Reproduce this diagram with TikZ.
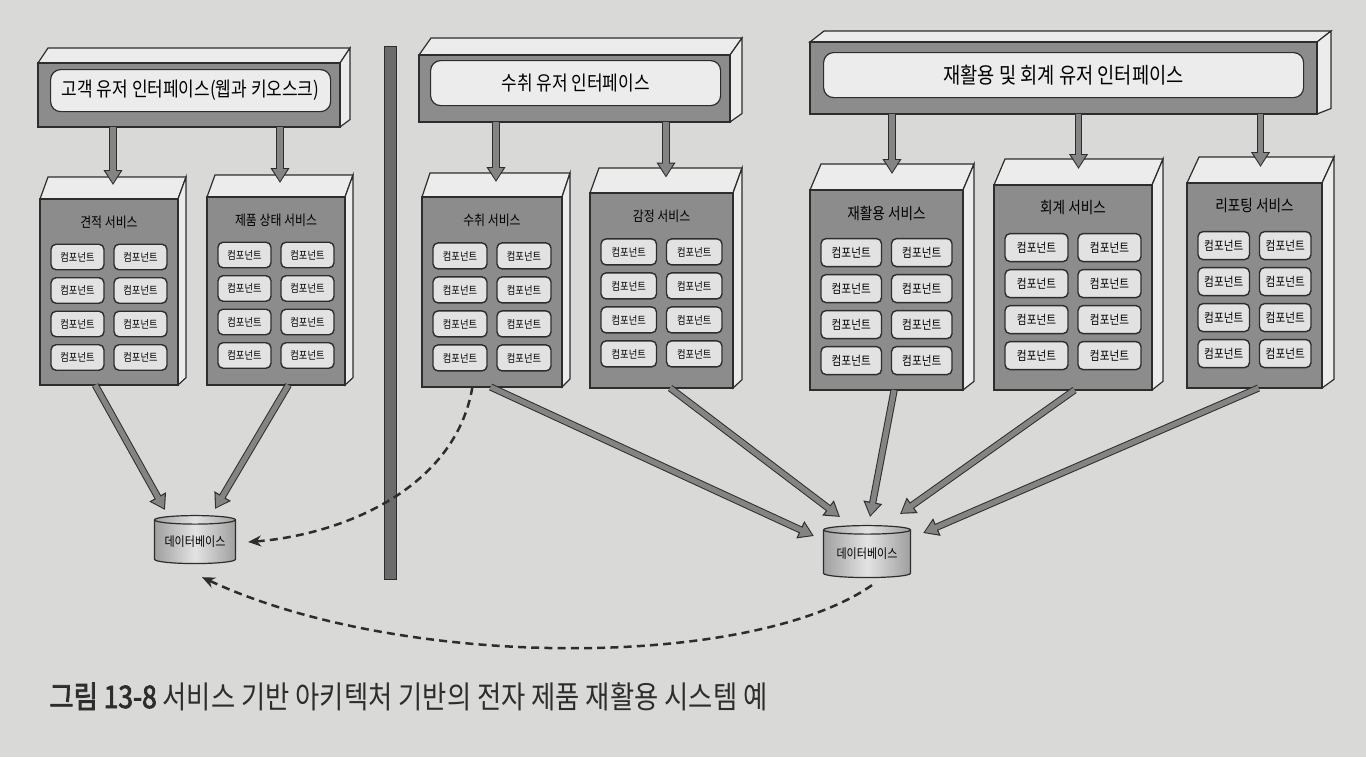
\documentclass[tikz,border=0pt]{standalone}
\usepackage{fontspec}
\setmainfont{Noto Sans CJK KR}[FakeStretch=0.85,AutoFakeBold=2.5]
\usetikzlibrary{shapes.geometric,calc,arrows.meta}
\definecolor{pagegray}{RGB}{217,217,215}
\definecolor{facegray}{RGB}{140,140,140}
\definecolor{litegray}{RGB}{236,236,236}
\definecolor{compgray}{RGB}{226,226,226}
\definecolor{arrowgray}{RGB}{132,132,132}
\definecolor{inkgray}{RGB}{45,45,45}

\begin{document}
\begin{tikzpicture}[x=0.5pt,y=-0.5pt,
  face/.style={draw=inkgray,fill=facegray,line width=0.6pt,inner sep=0pt,outer sep=0pt},
  lite/.style={draw=inkgray,fill=litegray,line width=0.6pt},
  comp/.style={draw=inkgray,fill=compgray,rounded corners=2.5pt,line width=0.7pt,inner sep=0pt,outer sep=0pt},
  fat/.style={line width=3.6pt,draw=inkgray,-{Triangle[length=7.5pt,width=9pt]},
    postaction={draw=arrowgray,line width=2.6pt,-{Triangle[length=6pt,width=7pt]},shorten >=0.9pt}},
  dashlink/.style={draw=inkgray,line width=1.25pt,dash pattern=on 4pt off 2.6pt,-{Stealth[length=6.5pt,width=5.5pt]}},
  db/.style={cylinder,shape border rotate=90,aspect=0.14,draw=inkgray,line width=0.6pt,
    left color=gray!75,right color=gray!75,middle color=gray!22,inner sep=0pt,
    font=\fontsize{6.5}{7}\selectfont}]
\useasboundingbox (0,0) rectangle (1366,757);
\fill[pagegray] (0,0) rectangle (1366,757);

% divider
\filldraw[draw=inkgray,fill=black!58] (384,46) rectangle (396,579);

% user interfaces
\foreach \nm/\xl/\yt/\xr/\yb/\dx/\dy/\il/\it/\ir/\ib/\fs/\ttl in {
  cui/38/63/340/127/10/15/50/69/330/111/10/{고객 유저 인터페이스(웹과 키오스크)},
  rui/419/55/730/122/12/17/430/60/720/105/10/{수취 유저 인터페이스},
  aui/810/42/1317/114/14/11/823/52/1303/97/11/{재활용 및 회계 유저 인터페이스}} {
\draw[lite] (\xl,\yt) -- (\xl+\dx,\yt-\dy) -- (\xr+\dx,\yt-\dy) -- (\xr,\yt) -- cycle;
\draw[lite] (\xr,\yt) -- (\xr+\dx,\yt-\dy) -- (\xr+\dx,\yb-\dy/2) -- (\xr,\yb) -- cycle;
\pgfmathsetmacro\w{(\xr-\xl)/2}
\pgfmathsetmacro\h{(\yb-\yt)/2}
\pgfmathsetmacro\iw{(\ir-\il)/2}
\pgfmathsetmacro\ih{(\ib-\it)/2}
\node[face,anchor=north west,minimum width=\w pt,minimum height=\h pt] (\nm) at (\xl,\yt) {};
\node[lite,rounded corners=5pt,inner sep=0pt,anchor=north west,minimum width=\iw pt,
  minimum height=\ih pt,font=\fontsize{\fs}{\fs}\selectfont] (\nm-in) at (\il,\it) {\ttl};
}

% services
\foreach \nm/\xl/\yt/\xr/\yb/\dx/\dy/\rs/\fs/\ttl in {
  est/40/199/178/385/8/22/33.5/7/견적 서비스,
  prod/207/197/345/385/8/22/33.5/7/제품 상태 서비스,
  recv/422/197/562/387/8/24/34/7/수취 서비스,
  appr/590/193/733/388/9/25/34/7/감정 서비스,
  recy/810/190/963/390/11/26/36/8/재활용 서비스,
  acct/994/185/1152/390/11/26/36/8/회계 서비스,
  rept/1187/183/1322/388/12/26/36/8/리포팅 서비스} {
\draw[lite] (\xl,\yt) -- (\xl+\dx,\yt-\dy) -- (\xr+\dx,\yt-\dy) -- (\xr,\yt) -- cycle;
\draw[lite] (\xr,\yt) -- (\xr+\dx,\yt-\dy) -- (\xr+\dx,\yb-\dy/3) -- (\xr,\yb) -- cycle;
\pgfmathsetmacro\w{(\xr-\xl)/2}
\pgfmathsetmacro\h{(\yb-\yt)/2}
\node[face,anchor=north west,minimum width=\w pt,minimum height=\h pt] (\nm) at (\xl,\yt) {};
\coordinate (\nm-top) at ({(\xl+\xr+\dx)/2},{\yt-\dy/2-3});
\node[font=\fontsize{\fs}{\fs}\selectfont] (\nm-t) at ($(\nm.north)+(0,23)$) {\ttl};
\pgfmathsetmacro\cw{(\xr-\xl-32)/4}
\pgfmathsetmacro\ch{(\rs-8)/2}
\pgfmathsetmacro\cf{\fs*0.78}
\foreach \i in {0,...,3} \foreach \j in {0,1} {
  \node[comp,minimum width=\cw pt,minimum height=\ch pt,font=\fontsize{\cf}{\cf}\selectfont]
    (\nm-\i\j) at ($(\nm.north)+({(2*\j-1)*(\cw+5)},{1.35*\rs+\i*\rs+(\rs-8)/2})$) {컴포넌트};
}
}

% databases
\node[db,minimum width=40.5pt,minimum height=24pt] (ldb) at (195,542) {데이터베이스};
\node[db,minimum width=43.5pt,minimum height=26pt] (rdb) at (867,554) {데이터베이스};

% arrows
\foreach \u/\sv in {cui/est,cui/prod,rui/recv,rui/appr,aui/recy,aui/acct,aui/rept}
  \draw[fat] (\u.south -| \sv-top) -- (\sv-top);

\draw[fat] ($(est.south west)!0.4!(est.south east)$) -- ($(ldb.north)+(-30,-5)$);
\draw[fat] ($(prod.south west)!0.59!(prod.south east)$) -- ($(ldb.north)+(20,-6)$);
\draw[fat] ($(recv.south west)!0.49!(recv.south east)$) -- ($(rdb.west)+(-9,-18)$);
\draw[fat] ($(appr.south west)!0.56!(appr.south east)$) -- ($(rdb.north)+(-27,-8)$);
\draw[fat] ($(recy.south west)!0.55!(recy.south east)$) -- ($(rdb.north)+(3,-8)$);
\draw[fat] ($(acct.south west)!0.51!(acct.south east)$) -- ($(rdb.north)+(33,-11)$);
\draw[fat] ($(rept.south west)!0.53!(rept.south east)$) -- ($(rdb.east)+(12,-21)$);

\draw[dashlink] ($(recv.south west)!0.36!(recv.south east)$) .. controls (455,490) and (340,535) .. ($(ldb.east)+(12,0)$);
\draw[dashlink] ($(rdb.south)+(5,7)$) .. controls (750,670) and (400,670) .. ($(ldb.south)+(7,13)$);

% caption
\node[anchor=base west,text=inkgray,inner sep=0pt,font=\fontsize{15.5}{18}\selectfont] (cap) at (49,708)
  {\textbf{그림 13-8} 서비스 기반 아키텍처 기반의 전자 제품 재활용 시스템 예};
\end{tikzpicture}
\end{document}
